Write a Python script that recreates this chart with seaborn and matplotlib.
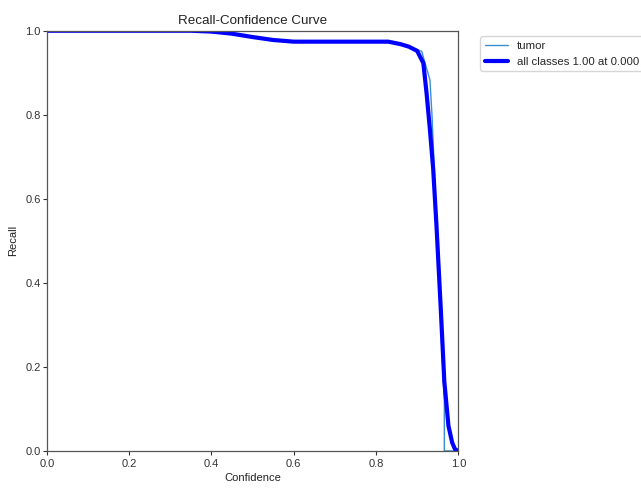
import matplotlib
matplotlib.use("Agg")
import matplotlib.pyplot as plt
import seaborn as sns
import pandas as pd

# Per-class curve (tumor)
tumor_conf = [0.0, 0.35, 0.40, 0.45, 0.50, 0.55, 0.60, 0.83, 0.86, 0.88, 0.90, 0.911, 0.931,
              0.936, 0.947, 0.957, 0.961, 0.966, 0.966, 1.0]
tumor_recall = [1.0, 1.0, 0.998, 0.993, 0.985, 0.978, 0.974, 0.974, 0.968, 0.962, 0.955, 0.951, 0.883,
                0.80, 0.55, 0.32, 0.22, 0.12, 0.0, 0.0]

# Mean (all classes) smoothed curve
mean_conf = [0.0, 0.35, 0.40, 0.45, 0.50, 0.55, 0.60, 0.83, 0.86, 0.88, 0.90, 0.915, 0.923,
             0.931, 0.939, 0.947, 0.957, 0.966, 0.976, 0.985, 0.992, 1.0]
mean_recall = [1.0, 1.0, 0.998, 0.993, 0.985, 0.978, 0.974, 0.974, 0.968, 0.962, 0.952, 0.923, 0.85,
               0.765, 0.67, 0.535, 0.345, 0.165, 0.06, 0.02, 0.004, 0.0]

tumor_label = "tumor"
mean_label = "all classes 1.00 at 0.000"

sns.set_style("white")
plt.rcParams['font.family'] = ['Liberation Sans', 'DejaVu Sans']

fig = plt.figure(figsize=(6.41, 4.88), dpi=100)
ax = fig.add_axes([0.073, 0.076, 0.642, 0.861])

df_t = pd.DataFrame({"Confidence": tumor_conf, "Recall": tumor_recall})
df_m = pd.DataFrame({"Confidence": mean_conf, "Recall": mean_recall})

sns.lineplot(data=df_t, x="Confidence", y="Recall", ax=ax, color="#3a8fd0", linewidth=1,
             label=tumor_label, estimator=None, sort=False)
sns.lineplot(data=df_m, x="Confidence", y="Recall", ax=ax, color="blue", linewidth=3,
             label=mean_label, estimator=None, sort=False)

ax.set_xlim(0, 1)
ax.set_ylim(0, 1)
ax.set_xticks([0.0, 0.2, 0.4, 0.6, 0.8, 1.0])
ax.set_yticks([0.0, 0.2, 0.4, 0.6, 0.8, 1.0])
ax.tick_params(axis='both', labelsize=8, length=3, width=0.8, direction='out',
               bottom=True, left=True, colors='#333333')
ax.tick_params(axis='y', pad=1.5)
ax.tick_params(axis='x', pad=3)
ax.set_xlabel("Confidence", fontsize=8, color='#222222', labelpad=3)
ax.set_ylabel("Recall", fontsize=8, color='#222222', labelpad=5)
ax.set_title("Recall-Confidence Curve", fontsize=9.6, color='#222222', pad=5)
for s in ax.spines.values():
    s.set_color('#555555')
    s.set_linewidth(0.9)

ax.legend(bbox_to_anchor=(1.04, 1), loc="upper left", fontsize=8.2, frameon=True)

fig.savefig("out.png", dpi=100)
